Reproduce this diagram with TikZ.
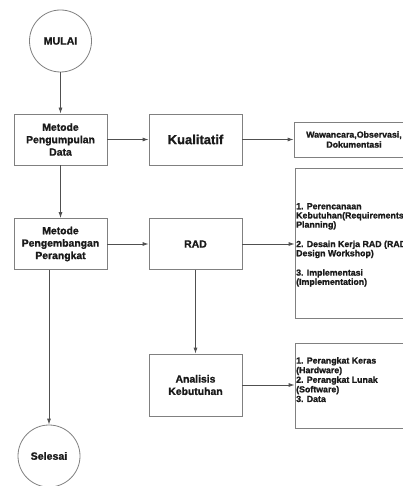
\documentclass[tikz,border=0pt]{standalone}
\usepackage{fontspec}
\setmainfont{Liberation Sans}[BoldFeatures={FakeBold=1.2}]
\usetikzlibrary{arrows.meta,calc}
\definecolor{bordc}{HTML}{808080}
\definecolor{linec}{HTML}{505050}
\definecolor{txtc}{HTML}{1A1A1A}
\begin{document}
\begin{tikzpicture}[x=1pt,y=-1pt,
  box/.style={draw=bordc, line width=0.8pt, rectangle, minimum width=93pt, minimum height=51pt, align=center, font=\fontsize{10.4}{12.4}\selectfont\bfseries, text=txtc, inner sep=1pt},
  term/.style={draw=bordc, line width=0.8pt, circle, minimum size=62pt, inner sep=0pt, font=\fontsize{10.6}{12.4}\selectfont\bfseries, text=txtc},
  lst/.style={draw=bordc, line width=0.8pt, rectangle, minimum width=120pt, inner sep=0pt},
  lsttxt/.style={anchor=north west, align=left, inner sep=0pt, font=\fontsize{8.8}{9.2}\selectfont\bfseries, text=txtc},
  arr/.style={draw=linec, line width=0.8pt, -{Latex[length=6pt,width=4pt]}},
]
\useasboundingbox (0,0) rectangle (403,486);
\clip (0,0) rectangle (403,486);
\fill[white] (0,0) rectangle (403,486);

\node[term] (mulai) at (60.5,41) {MULAI};
\node[box] (pd) at (60.5,139.5) {Metode\\Pengumpulan\\Data};
\node[box, font=\fontsize{13}{15}\selectfont\bfseries] (kual) at (195.5,139.5) {Kualitatif};
\node[lst, minimum height=35pt, align=center, text=txtc, font=\fontsize{8.8}{10}\selectfont\bfseries] (waw) at (354,139.5) {Wawancara,Observasi,\\Dokumentasi};

\node[box] (pp) at (60.5,244) {Metode\\Pengembangan\\Perangkat};
\node[box] (rad) at (195.5,244) {RAD};
\node[lst, minimum height=150pt] (radl) at (355,243) {};
\node[lsttxt] (radt) at (296,203) {1. Perencanaan\\Kebutuhan(Requirements\\Planning)\\[10.2pt]2. Desain Kerja RAD (RAD\\Design Workshop)\\[10.2pt]3. Implementasi\\(Implementation)};

\node[box, minimum height=62pt] (anal) at (195.5,385) {Analisis\\Kebutuhan};
\node[lst, minimum height=85pt] (anl) at (355,385.5) {};
\node[lsttxt, font=\fontsize{8.8}{9.6}\selectfont\bfseries] (anlt) at (296,357) {1. Perangkat Keras\\(Hardware)\\2. Perangkat Lunak\\(Software)\\3. Data};

\node[term] (sel) at (49,456) {Selesai};

\draw[arr] (mulai) -- (pd);
\draw[arr] (pd) -- (kual);
\draw[arr] (kual) -- (waw);
\draw[arr] (pd) -- (pp);
\draw[arr] (pp) -- (rad);
\draw[arr] (rad.east) -- (radl.west |- rad.east);
\draw[arr] (rad) -- (anal);
\draw[arr] (anal.east) -- (anl.west |- anal.east);
\draw[arr] (sel.north |- pp.south) -- (sel);
\end{tikzpicture}
\end{document}
